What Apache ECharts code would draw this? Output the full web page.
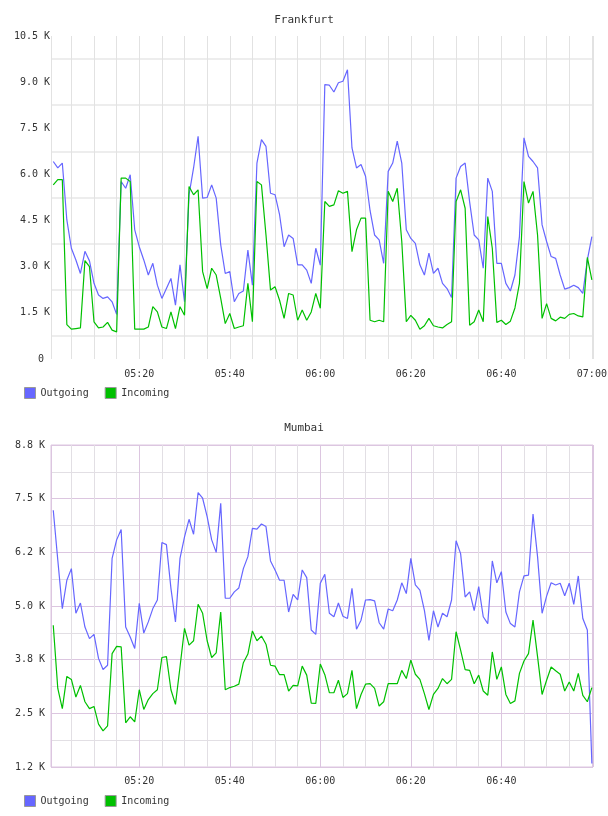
<!DOCTYPE html>
<html>
<head>
    <meta charset="utf-8">
    <script src="https://cdn.jsdelivr.net/npm/echarts@6/dist/echarts.min.js"></script>
    <style>
        html, body { margin: 0; padding: 0; background: #fff; }
        #main { width: 608px; height: 816px; }
    </style>
</head>
<body>
<div id="main"></div>
<script>
// samples every minute, 05:01 .. 07:00
var frankfurtOut = [6420, 6210, 6370, 4520, 3600, 3220, 2780, 3500, 3190, 2460,
    2080, 1970, 2020, 1860, 1450, 5770, 5550, 5990, 4200, 3650,
    3220, 2730, 3110, 2400, 1970, 2290, 2620, 1750, 3060, 1860,
    5340, 6210, 7240, 5230, 5250, 5660, 5230, 3710, 2780, 2840,
    1860, 2130, 2210, 3540, 2400, 6370, 7130, 6910, 5390, 5340,
    4690, 3650, 4030, 3920, 3060, 3060, 2890, 2460, 3600, 3050,
    8920, 8900, 8680, 8980, 9030, 9400, 6860, 6210, 6320, 5940,
    4820, 4030, 3870, 3110, 6100, 6370, 7080, 6370, 4200, 3920,
    3760, 3060, 2730, 3440, 2780, 2950, 2460, 2290, 2000, 5880,
    6260, 6370, 5100, 4030, 3870, 2950, 5880, 5450, 3110, 3110,
    2460, 2210, 2730, 3980, 7190, 6590, 6420, 6210, 4360, 3820,
    3330, 3270, 2730, 2270, 2320, 2400, 2320, 2130, 3220, 3980];
var frankfurtIn = [5660, 5830, 5830, 1120, 970, 990, 1010, 3200, 3000, 1210,
    1010, 1040, 1190, 940, 880, 5880, 5880, 5770, 970, 970,
    970, 1040, 1700, 1530, 1040, 990, 1530, 990, 1700, 1420,
    5610, 5340, 5500, 2840, 2290, 2950, 2730, 1970, 1150, 1480,
    990, 1040, 1080, 2460, 1210, 5770, 5660, 4030, 2240, 2350,
    1910, 1320, 2130, 2080, 1260, 1590, 1260, 1530, 2130, 1650,
    5120, 4960, 5010, 5470, 5390, 5450, 3490, 4200, 4580, 4580,
    1260, 1210, 1260, 1210, 5450, 5120, 5550, 3820, 1210, 1420,
    1260, 970, 1080, 1320, 1080, 1040, 1010, 1120, 1210, 5120,
    5500, 4900, 1100, 1210, 1590, 1210, 4630, 3600, 1190, 1260,
    1120, 1230, 1660, 2460, 5770, 5070, 5450, 4030, 1320, 1800,
    1320, 1240, 1360, 1320, 1450, 1480, 1400, 1370, 3300, 2570];
var mumbaiOut = [7230, 6070, 4940, 5600, 5870, 4830, 5070, 4510, 4240, 4340,
    3780, 3520, 3620, 6110, 6540, 6780, 4510, 4280, 4010, 5060,
    4370, 4630, 4940, 5140, 6480, 6430, 5410, 4630, 6110, 6610,
    7020, 6670, 7640, 7510, 7080, 6540, 6250, 7390, 5180, 5180,
    5330, 5420, 5870, 6150, 6810, 6790, 6910, 6850, 6050, 5840,
    5600, 5600, 4860, 5270, 5140, 5840, 5660, 4440, 4340, 5530,
    5740, 4830, 4750, 5070, 4760, 4710, 5410, 4460, 4670, 5140,
    5150, 5120, 4610, 4460, 4930, 4890, 5140, 5540, 5290, 6110,
    5490, 5370, 4900, 4200, 4890, 4510, 4830, 4750, 5140, 6520,
    6220, 5210, 5330, 4890, 5450, 4750, 4590, 6050, 5540, 5800,
    4860, 4590, 4510, 5330, 5700, 5720, 7140, 6150, 4830, 5230,
    5540, 5490, 5530, 5240, 5530, 5040, 5700, 4710, 4440, 1330];
var mumbaiIn = [4550, 3080, 2610, 3360, 3290, 2880, 3150, 2770, 2610, 2660,
    2250, 2090, 2210, 3890, 4060, 4050, 2280, 2420, 2300, 3050,
    2590, 2820, 2960, 3050, 3800, 3820, 3050, 2710, 3580, 4480,
    4090, 4190, 5040, 4830, 4190, 3800, 3910, 4860, 3050, 3100,
    3130, 3180, 3680, 3880, 4420, 4190, 4300, 4110, 3620, 3600,
    3400, 3400, 3020, 3150, 3140, 3600, 3390, 2740, 2730, 3650,
    3400, 2980, 2980, 3270, 2870, 2960, 3500, 2610, 2940, 3180,
    3190, 3080, 2670, 2770, 3190, 3190, 3190, 3500, 3310, 3740,
    3410, 3290, 2960, 2590, 2940, 3080, 3310, 3190, 3290, 4400,
    3970, 3520, 3500, 3190, 3390, 3020, 2920, 3930, 3290, 3580,
    2940, 2730, 2790, 3430, 3720, 3890, 4670, 3820, 2940, 3270,
    3580, 3490, 3410, 3020, 3230, 3020, 3430, 2920, 2770, 3100];

var frankfurtTicks = [0, 1500, 3000, 4500, 6000, 7500, 9000, 10500];
var mumbaiTicks = [1250, 2500, 3750, 5000, 6250, 7500, 8750];

var MIN = 60000;
var t0 = new Date(2024, 0, 1, 5, 0, 0).getTime();
var xMin = t0 + 30000;
var xMax = t0 + 120 * MIN + 15000;

function pairs(vals) {
    var out = [];
    for (var i = 0; i < vals.length; i++) {
        out.push([t0 + (i + 1) * MIN, vals[i]]);
    }
    return out;
}
function pad(n) { return n < 10 ? '0' + n : '' + n; }
function timeLabel(v, hideLast) {
    var d = new Date(v);
    if (d.getMinutes() % 20 !== 0 || d.getSeconds() !== 0) return '';
    if (hideLast && d.getHours() === 7) return '';
    return pad(d.getHours()) + ':' + pad(d.getMinutes());
}
// half-even rounding to one decimal (1.25 -> 1.2, 3.75 -> 3.8)
function kLabel(v) {
    var x = v / 100;
    var f = Math.floor(x);
    if (Math.abs(x - f - 0.5) < 1e-9) {
        x = (f % 2 === 0) ? f : f + 1;
    } else {
        x = Math.round(x);
    }
    return (x / 10).toFixed(1) + ' K';
}

var mono = 'DejaVu Sans Mono';
var labelStyle = { fontFamily: mono, fontSize: 10, color: '#333' };
var blue = '#6666ff';
var green = '#00c000';
var lavender = '#dcc6e0';

var chart = echarts.init(document.getElementById('main'), null, { renderer: 'canvas' });
var option = {
    animation: false,
    backgroundColor: '#fff',
    title: [{
        text: 'Frankfurt', left: 'center', top: 15, padding: 0,
        textStyle: { fontFamily: mono, fontSize: 11, fontWeight: 'normal', color: '#333' }
    }, {
        text: 'Mumbai', left: 'center', top: 423, padding: 0,
        textStyle: { fontFamily: mono, fontSize: 11, fontWeight: 'normal', color: '#333' }
    }],
    legend: [{
        left: 24, top: 387, padding: 0, itemWidth: 11, itemHeight: 11, itemGap: 16,
        icon: 'rect', data: ['Outgoing', 'Incoming'],
        itemStyle: { borderColor: '#999', borderWidth: 1 },
        textStyle: labelStyle
    }, {
        left: 24, top: 795, padding: 0, itemWidth: 11, itemHeight: 11, itemGap: 16,
        icon: 'rect', data: ['Outgoing', 'Incoming'],
        itemStyle: { borderColor: '#999', borderWidth: 1 },
        textStyle: labelStyle
    }],
    grid: [{
        left: 51, top: 36, width: 542, height: 323, outerBoundsMode: 'none'
    }, {
        left: 51, top: 445, width: 542, height: 322, outerBoundsMode: 'none',
        show: true, borderColor: lavender, borderWidth: 1, backgroundColor: 'transparent'
    }],
    xAxis: [{
        type: 'time', gridIndex: 0, position: 'bottom', min: xMin, max: xMax,
        minInterval: 6 * MIN, maxInterval: 6 * MIN,
        axisLine: { show: false }, axisTick: { show: false },
        axisLabel: {
            margin: 10, fontFamily: mono, fontSize: 10, color: '#333',
            formatter: function (v) { return timeLabel(v, false); }
        },
        splitLine: { show: true, lineStyle: { color: '#e2e2e2', width: 1 } }
    }, {
        // 5 minute grey grid for Mumbai
        type: 'time', gridIndex: 1, position: 'top', min: xMin, max: xMax,
        minInterval: 6 * MIN, maxInterval: 6 * MIN,
        axisLine: { show: false }, axisTick: { show: false },
        axisLabel: { show: false },
        splitLine: { show: true, lineStyle: { color: '#e2dfe4', width: 1 } }
    }, {
        type: 'time', gridIndex: 1, position: 'bottom', min: xMin, max: xMax,
        minInterval: 21 * MIN, maxInterval: 21 * MIN,
        axisLine: { show: false }, axisTick: { show: false },
        axisLabel: {
            margin: 9, fontFamily: mono, fontSize: 10, color: '#333',
            formatter: function (v) { return timeLabel(v, true); }
        },
        splitLine: { show: true, lineStyle: { color: lavender, width: 1 } }
    }],
    yAxis: [{
        type: 'value', gridIndex: 0,
        min: frankfurtTicks[0], max: frankfurtTicks[frankfurtTicks.length - 1],
        interval: frankfurtTicks[1] - frankfurtTicks[0],
        axisLine: { show: false }, axisTick: { show: false },
        axisLabel: {
            margin: 1, fontFamily: mono, fontSize: 10, color: '#333',
            formatter: function (v) { return v === 0 ? '0 ' : (v / 1000).toFixed(1) + ' K'; }
        },
        splitLine: { show: false },
        minorTick: { show: false, splitNumber: 2 },
        minorSplitLine: { show: true, lineStyle: { color: '#ededed', width: 2 } }
    }, {
        type: 'value', gridIndex: 1,
        min: mumbaiTicks[0], max: mumbaiTicks[mumbaiTicks.length - 1],
        interval: mumbaiTicks[1] - mumbaiTicks[0],
        axisLine: { show: false }, axisTick: { show: false },
        axisLabel: {
            margin: 6, fontFamily: mono, fontSize: 10, color: '#333',
            formatter: kLabel
        },
        splitLine: { show: true, lineStyle: { color: lavender, width: 1 } },
        minorTick: { show: false, splitNumber: 2 },
        minorSplitLine: { show: true, lineStyle: { color: '#e2dfe4', width: 1 } }
    }],
    series: [{
        name: 'Outgoing', type: 'line', xAxisIndex: 0, yAxisIndex: 0,
        showSymbol: false, color: blue, lineStyle: { width: 1.2, color: blue },
        data: pairs(frankfurtOut)
    }, {
        name: 'Incoming', type: 'line', xAxisIndex: 0, yAxisIndex: 0,
        showSymbol: false, color: green, lineStyle: { width: 1.2, color: green },
        data: pairs(frankfurtIn)
    }, {
        name: 'Outgoing', type: 'line', xAxisIndex: 2, yAxisIndex: 1,
        showSymbol: false, color: blue, lineStyle: { width: 1.2, color: blue },
        data: pairs(mumbaiOut)
    }, {
        name: 'Incoming', type: 'line', xAxisIndex: 2, yAxisIndex: 1,
        showSymbol: false, color: green, lineStyle: { width: 1.2, color: green },
        data: pairs(mumbaiIn)
    }]
};
chart.setOption(option);
</script>
</body>
</html>
